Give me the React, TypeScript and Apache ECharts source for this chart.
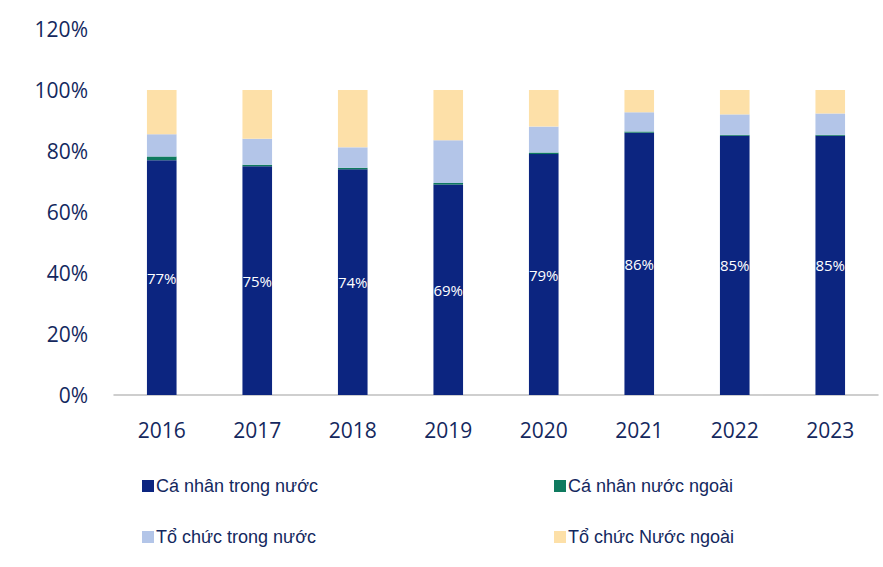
import React, { useEffect, useRef } from "react";
import * as echarts from "echarts";

const years = ["2016", "2017", "2018", "2019", "2020", "2021", "2022", "2023"];
const caNhanTrongNuoc = [77, 75, 74, 69, 79, 86, 85, 85];
const caNhanNuocNgoai = [1.2, 0.5, 0.5, 0.5, 0.5, 0.4, 0.3, 0.3];
const toChucTrongNuoc = [7.3, 8.5, 6.7, 14, 8.5, 6.3, 6.7, 7];
const toChucNuocNgoai = [14.5, 16, 18.8, 16.5, 12, 7.3, 8, 7.7];

const names = ["Cá nhân trong nước", "Cá nhân nước ngoài", "Tổ chức trong nước", "Tổ chức Nước ngoài"];
const colors = ["#0c2580", "#0f7a5f", "#b3c5e8", "#fde0a8"];

const textColor = "#14285e";
const axisFont = "'Open Sans', 'Liberation Sans', sans-serif";
const legendFont = "'Liberation Sans', Arial, sans-serif";

export default function App() {
  const ref = useRef<HTMLDivElement>(null);
  useEffect(() => {
    if (!ref.current) return;
    const chart = echarts.init(ref.current, null, { renderer: "svg" });
    const seriesData = [caNhanTrongNuoc, caNhanNuocNgoai, toChucTrongNuoc, toChucNuocNgoai];
    const legendPos = [
      { left: 142, top: 477 },
      { left: 554, top: 477 },
      { left: 142, top: 528 },
      { left: 554, top: 528 },
    ];
    chart.setOption({
      animation: false,
      backgroundColor: "#ffffff",
      grid: { left: 114, right: 5, top: 29, bottom: 172, containLabel: false },
      xAxis: {
        type: "category",
        data: years,
        axisLine: { show: true, lineStyle: { color: "#bfbfbf", width: 1.5 } },
        axisTick: { show: false },
        axisLabel: { color: textColor, fontSize: 21, fontFamily: axisFont, margin: 24 },
      },
      yAxis: {
        type: "value",
        min: 0,
        max: 120,
        interval: 20,
        axisLine: { show: false },
        axisTick: { show: false },
        splitLine: { show: false },
        axisLabel: {
          color: textColor,
          fontSize: 21,
          fontFamily: axisFont,
          margin: 26,
          formatter: (v: number) => v + "%",
        },
      },
      legend: legendPos.map((p, i) => ({
        data: [names[i]],
        left: p.left,
        top: p.top,
        orient: "horizontal",
        icon: "rect",
        itemWidth: 12,
        itemHeight: 12,
        itemGap: 2,
        textStyle: { color: textColor, fontSize: 18, fontFamily: legendFont, padding: [0, 0, 0, -3] },
        padding: 0,
        selectedMode: false,
      })),
      series: seriesData.map((d, i) => ({
        name: names[i],
        type: "bar",
        stack: "total",
        data: d,
        barWidth: "31%",
        itemStyle: { color: colors[i] },
        label:
          i === 0
            ? {
                show: true,
                position: "inside",
                color: "#ffffff",
                fontSize: 15,
                fontFamily: axisFont,
                formatter: (p: any) => Math.round(p.value) + "%",
              }
            : { show: false },
      })),
    });
    return () => chart.dispose();
  }, []);
  return (
    <div
      ref={ref}
      style={{ position: "fixed", left: 0, top: 0, width: 883, height: 567, background: "#fff" }}
    />
  );
}
